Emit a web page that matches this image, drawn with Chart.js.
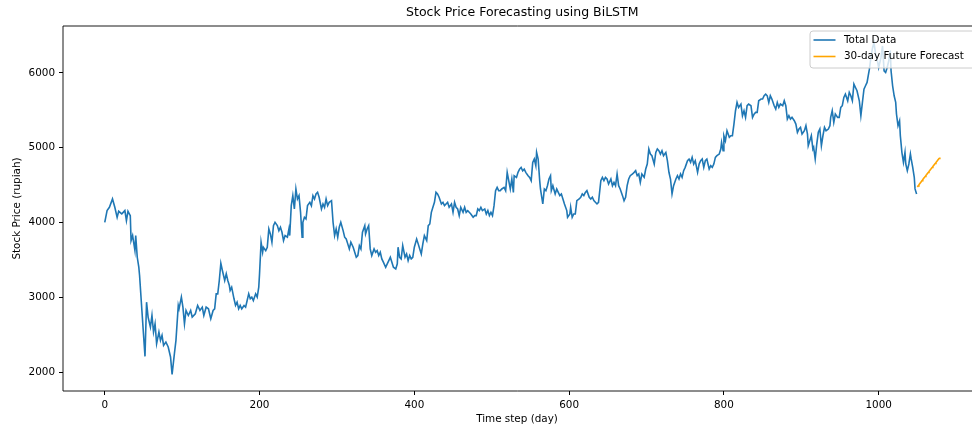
<!DOCTYPE html>
<html>
<head>
<meta charset="utf-8">
<script src="https://cdn.jsdelivr.net/npm/chart.js@4.4.1/dist/chart.umd.min.js"></script>
<style>
  html, body { margin: 0; padding: 0; overflow: hidden; background: #fff; }
  canvas { display: block; }
</style>
</head>
<body>
<canvas id="forecast-chart" width="972" height="428"></canvas>
<script>
const chartTitle = "Stock Price Forecasting using BiLSTM";
const xAxisTitle = "Time step (day)";
const yAxisTitle = "Stock Price (rupiah)";
const seriesNames = ["Total Data", "30-day Future Forecast"];

const xTicks = [0, 200, 400, 600, 800, 1000];
const yTicks = [2000, 3000, 4000, 5000, 6000];

// historical series (day, price)
const days = [
  0,3,6,10,13,16,18,22,26,28,30,33,34,36,39,40,42,44,45,48,50,52,54,56,59,61,63,65,67,70,72,74,76,79,82,85,87,90,92,95,96,99,
  101,103,105,108,111,113,117,120,123,126,128,131,134,137,140,142,144,146,148,150,152,155,157,159,161,
  162,164,167,169,171,173,175,177,180,182,184,186,188,190,192,195,197,199,200,202,204,205,208,210,212,214,216,218,220,223,225,
  227,229,231,233,236,238,239,241,243,245,247,249,251,253,255,256,258,260,262,265,267,269,271,273,275,277,280,282,284,286,288,
  290,293,295,297,299,301,303,305,308,310,312,314,316,318,321,323,325,327,329,331,333,336,
  337,339,341,343,345,348,350,352,354,356,358,360,363,365,367,369,371,373,376,378,379,381,383,385,388,390,392,394,396,398,400,
  403,405,407,409,411,413,416,418,420,422,424,426,428,430,432,435,437,439,441,443,445,448,450,452,454,456,458,460,463,465,467,
  469,471,473,476,478,480,482,484,486,488,491,493,495,497,499,501,503,505,507,509,
  511,513,516,518,520,522,524,526,528,529,532,534,536,538,540,542,544,547,549,551,553,555,557,558,560,562,563,565,566,568,570,
  572,574,576,577,579,582,584,586,588,590,592,594,597,598,601,602,604,606,608,610,613,615,617,619,621,623,626,628,630,632,634,
  636,638,641,643,645,647,649,651,654,656,658,660,662,664,666,669,671,673,675,677,679,682,684,
  686,688,690,692,694,697,699,701,703,705,707,710,712,714,716,718,720,722,725,727,729,731,733,735,738,740,742,744,746,748,750,
  753,755,757,759,761,763,766,768,770,772,774,776,778,781,783,785,787,789,791,794,796,797,799,800,802,804,807,809,811,813,815,
  817,819,822,824,826,828,830,832,835,837,839,841,843,845,848,850,852,854,856,858,
  860,862,865,867,869,871,873,876,878,880,882,884,886,888,891,893,895,897,899,901,904,906,908,909,911,913,915,916,918,920,922,
  924,926,928,930,932,935,937,938,940,942,944,947,949,951,953,955,957,960,962,964,966,968,970,972,975,977,979,981,983,985,988,
  990,992,994,996,998,1000,1003,1005,1007,1009,1011,1013,1015,1016,1018,1020,1022,1023,1025,1027,1028,1030,1032,1034,1035,1037,
  1039,1041,1042,1044,1046,1047,1049
];
const prices = [
  4002,4159,4203,4315,4203,4069,4150,4115,4159,4025,4150,4092,3758,3825,3625,3825,3535,3402,3291,2824,2513,2210,2935,2735,2602,2757,2535,2646,2380,2535,2424,2491,2357,2402,2335,2202,1969,2246,2424,2891,2846,3002,
  2868,2646,2824,2757,2824,2735,2780,2891,2824,2868,2757,2868,2846,2713,2824,2846,3046,3046,3224,3455,3358,3224,3313,3224,3157,
  3091,3135,2980,2891,2935,2846,2891,2846,2891,2868,2957,3046,2980,3002,2957,3046,3002,3135,3313,3736,3602,3669,3624,3669,3914,3847,3736,3958,4003,3958,3891,
  3936,3869,3758,3825,3803,3914,3825,4225,4359,4181,4448,4314,4359,4136,3803,4003,4069,4047,4225,4270,4225,4359,4314,4381,4403,4337,4181,4248,4203,4314,4225,
  4270,4292,4003,3825,3914,3803,3936,4003,3891,3803,3780,3714,3647,3736,3669,3602,3535,3558,3691,3647,3869,3958,
  3847,3914,3958,3647,3558,3647,3602,3624,3558,3602,3513,3469,3402,3447,3491,3535,3469,3402,3380,3447,3669,3535,3513,3691,3535,3580,3491,3558,3513,3535,3669,
  3780,3714,3647,3580,3714,3825,3758,3958,3980,4136,4203,4270,4403,4381,4337,4248,4270,4225,4248,4270,4203,4248,4136,4270,4203,4181,4092,4203,4136,4203,4136,
  4159,4136,4114,4069,4092,4092,4181,4159,4203,4159,4181,4114,4159,4092,4136,4092,4225,4425,4470,4425,
  4426,4448,4470,4426,4670,4559,4448,4581,4403,4626,4603,4670,4714,4737,4692,4714,4670,4626,4603,4559,4803,4848,4759,4937,4848,4559,4448,4314,4248,4448,4426,
  4492,4581,4626,4426,4492,4381,4448,4403,4359,4381,4314,4248,4159,4070,4114,4203,4070,4114,4114,4292,4314,4337,4381,4359,4403,4426,4337,4314,4337,4292,4270,
  4248,4270,4559,4603,4559,4603,4581,4514,4581,4492,4537,4492,4648,4492,4448,4359,4292,4337,4492,4581,4626,4648,4670,
  4693,4626,4648,4537,4648,4604,4715,4781,4982,4915,4893,4781,4937,4982,4960,4915,4960,4893,4937,4826,4671,4581,4381,4492,4581,4626,4581,4648,4604,4693,4737,
  4826,4848,4804,4871,4781,4826,4671,4781,4826,4848,4737,4826,4848,4715,4760,4737,4781,4871,4893,4915,4982,5071,4960,5160,5093,5227,5138,5160,5160,5316,5494,
  5605,5538,5583,5427,5494,5405,5561,5583,5561,5405,5449,5472,5472,5627,5650,5650,5694,5716,5694,5605,
  5694,5650,5561,5516,5605,5539,5583,5561,5627,5561,5383,5427,5383,5405,5360,5316,5205,5249,5271,5182,5227,5294,5182,5027,5093,5160,4982,5004,4849,5049,5205,
  5249,5027,5160,5271,5227,5249,5294,5405,5494,5338,5450,5405,5405,5539,5561,5672,5716,5627,5739,5694,5627,5850,5805,5761,5627,5427,5605,5783,5828,5872,6050,
  6206,6330,6405,6250,6184,6072,6206,6360,6028,6006,6072,6161,6300,6028,5828,5694,5605,5450,5294,5360,5160,4938,4804,4938,4782,4693,
  4782,4916,4849,4738,4604,4449,4382
];

// 30-day forecast
const forecastDays = [1050,1051,1052,1053,1054,1055,1056,1057,1058,1059,1060,1061,1062,1063,1064,1065,1066,1067,1068,1069,1070,1071,1072,1073,1074,1075,1076,1077,1078,1079];
const forecastPrices = [4475,4489,4503,4517,4531,4545,4559,4573,4587,4600,4614,4628,4641,4655,4668,4682,4695,4709,4722,4736,4749,4763,4776,4789,4803,4816,4829,4843,4856,4869];

// the original figure is cut off on the right: only up to ~day 1119 is visible
const xVisibleMax = 1119.3;

const FONT = "DejaVu Sans";
const totalData = days.map((d, i) => ({ x: d, y: prices[i] }));
const forecastData = forecastDays.map((d, i) => ({ x: d, y: forecastPrices[i] }));

// matplotlib-like 5% margins
const allX = days.concat(forecastDays);
const allY = prices.concat(forecastPrices);
const xLo = Math.min(...allX), xHi = Math.max(...allX);
const yLo = Math.min(...allY), yHi = Math.max(...allY);
const xPad = (xHi - xLo) * 0.05, yPad = (yHi - yLo) * 0.05;

// spines, title and legend drawn like matplotlib
const framePlugin = {
    id: 'frame',
    afterDraw(chart) {
        const ctx = chart.ctx;
        const a = chart.chartArea;
        ctx.save();
        ctx.strokeStyle = '#000';
        ctx.lineWidth = 0.9;
        ctx.beginPath();
        ctx.moveTo(chart.width, a.top);
        ctx.lineTo(a.left, a.top);
        ctx.lineTo(a.left, a.bottom);
        ctx.lineTo(chart.width, a.bottom);
        ctx.stroke();

        // title centred over the full (uncropped) axes box
        const fullRight = chart.scales.x.getPixelForValue(xHi + xPad);
        ctx.font = "12.5px '" + FONT + "'";
        ctx.textAlign = 'center';
        ctx.textBaseline = 'middle';
        ctx.fillStyle = '#000';
        ctx.fillText(chartTitle, (a.left + fullRight) / 2, 13);

        // legend (upper right, runs past the picture edge like the original)
        const bx = 810, by = 31, bw = 166, bh = 37, r = 3;
        ctx.beginPath();
        ctx.moveTo(bx + r, by);
        ctx.arcTo(bx + bw, by, bx + bw, by + bh, r);
        ctx.arcTo(bx + bw, by + bh, bx, by + bh, r);
        ctx.arcTo(bx, by + bh, bx, by, r);
        ctx.arcTo(bx, by, bx + bw, by, r);
        ctx.closePath();
        ctx.fillStyle = 'rgba(255,255,255,0.8)';
        ctx.fill();
        ctx.strokeStyle = '#cccccc';
        ctx.lineWidth = 1;
        ctx.stroke();

        ctx.font = "10.4px '" + FONT + "'";
        ctx.textAlign = 'left';
        ctx.textBaseline = 'middle';
        ctx.fillStyle = '#000';
        chart.data.datasets.forEach(function(ds, i) {
            const y = 40 + i * 16.5;
            ctx.beginPath();
            ctx.strokeStyle = ds.borderColor;
            ctx.lineWidth = 1.6;
            ctx.moveTo(813.5, y);
            ctx.lineTo(835.5, y);
            ctx.stroke();
            ctx.fillText(ds.label, 844, y);
        });
        ctx.restore();
    }
};

const ctx = document.getElementById("forecast-chart").getContext("2d");

const chart = new Chart(ctx, {
    type: 'line',
    data: {
        datasets: [{
            label: seriesNames[0],
            data: totalData,
            borderColor: '#1f77b4',
            borderWidth: 1.6,
            pointRadius: 0,
            tension: 0,
            fill: false
        }, {
            label: seriesNames[1],
            data: forecastData,
            borderColor: '#ffa500',
            borderWidth: 1.6,
            pointRadius: 0,
            tension: 0,
            fill: false
        }]
    },
    options: {
        responsive: false,
        animation: false,
        devicePixelRatio: 1,
        layout: { padding: { left: 0, right: 1, top: 26, bottom: 0 } },
        plugins: {
            legend: { display: false },
            tooltip: { enabled: false },
            title: { display: false }
        },
        scales: {
            x: {
                type: 'linear',
                min: xLo - xPad,
                max: xVisibleMax,
                afterBuildTicks(scale) { scale.ticks = xTicks.map(v => ({ value: v })); },
                afterFit(scale) { scale.height = 37; },
                border: { display: false },
                grid: { display: true, drawOnChartArea: false, drawTicks: true, tickLength: 4, color: '#000' },
                ticks: {
                    color: '#000',
                    padding: 4,
                    maxRotation: 0,
                    autoSkip: false,
                    font: { family: FONT, size: 10.4 },
                    callback: v => String(v)
                },
                title: {
                    display: true,
                    text: xAxisTitle,
                    color: '#000',
                    font: { family: FONT, size: 10.4 },
                    padding: { top: 0, bottom: 2 }
                }
            },
            y: {
                min: yLo - yPad,
                max: yHi + yPad,
                afterBuildTicks(scale) { scale.ticks = yTicks.map(v => ({ value: v })); },
                afterFit(scale) { scale.width = 63; },
                border: { display: false },
                grid: { display: true, drawOnChartArea: false, drawTicks: true, tickLength: 4, color: '#000' },
                ticks: {
                    color: '#000',
                    padding: 4,
                    autoSkip: false,
                    font: { family: FONT, size: 10.4 },
                    callback: v => String(v)
                },
                title: {
                    display: true,
                    text: yAxisTitle,
                    color: '#000',
                    font: { family: FONT, size: 10.4 },
                    padding: { top: 11, bottom: 0 }
                }
            }
        }
    },
    plugins: [framePlugin]
});
</script>
</body>
</html>
